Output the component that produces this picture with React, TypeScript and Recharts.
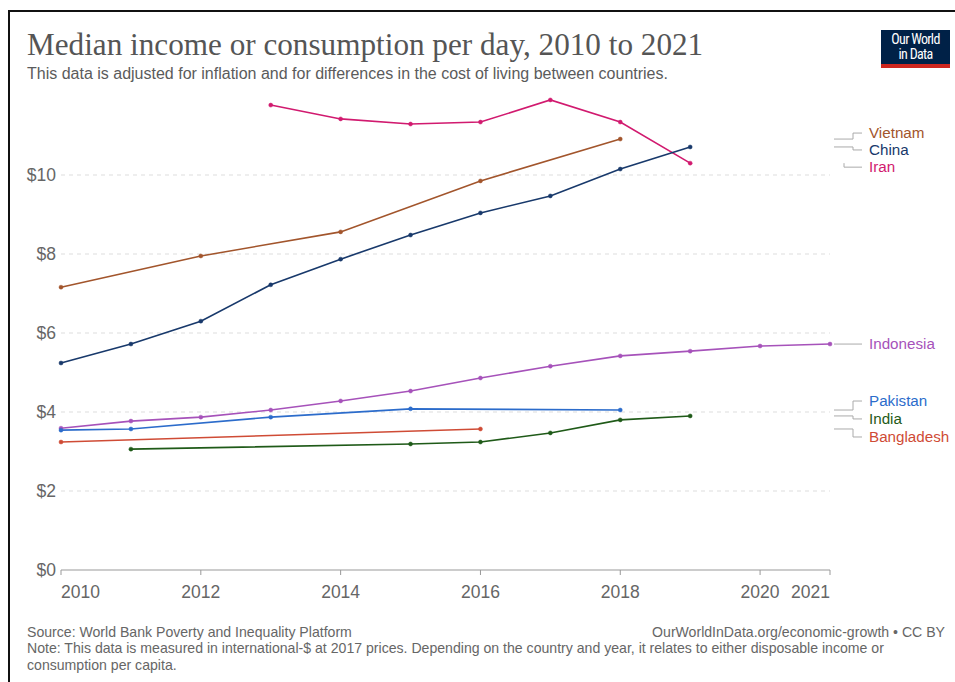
import React from "react";
import { LineChart, Line, XAxis, YAxis, CartesianGrid } from "recharts";

// ---- Data ----
const iranYears = [2013, 2014, 2015, 2016, 2017, 2018, 2019];
const iranValues = [11.77, 11.42, 11.29, 11.34, 11.9, 11.34, 10.3];

const vietnamYears = [2010, 2012, 2014, 2016, 2018];
const vietnamValues = [7.16, 7.95, 8.56, 9.85, 10.91];

const chinaYears = [2010, 2011, 2012, 2013, 2014, 2015, 2016, 2017, 2018, 2019];
const chinaValues = [5.24, 5.72, 6.3, 7.22, 7.87, 8.48, 9.04, 9.47, 10.15, 10.71];

const indonesiaYears = [2010, 2011, 2012, 2013, 2014, 2015, 2016, 2017, 2018, 2019, 2020, 2021];
const indonesiaValues = [3.59, 3.77, 3.87, 4.05, 4.28, 4.53, 4.86, 5.16, 5.42, 5.54, 5.67, 5.72];

const pakistanYears = [2010, 2011, 2013, 2015, 2018];
const pakistanValues = [3.54, 3.57, 3.87, 4.08, 4.05];

const bangladeshYears = [2010, 2016];
const bangladeshValues = [3.24, 3.57];

const indiaYears = [2011, 2015, 2016, 2017, 2018, 2019];
const indiaValues = [3.06, 3.19, 3.24, 3.47, 3.8, 3.9];

const xTicks = [2010, 2012, 2014, 2016, 2018, 2020, 2021];
const yTicks = [0, 2, 4, 6, 8, 10];

const build = (years: number[], values: number[]) =>
  years.map((year, i) => ({ year, value: values[i] }));

// name, data, colour, label vertical offset and connector start (layout)
const series = [
  { name: "Iran", data: build(iranYears, iranValues), color: "#d11a6f", dy: 4, short: true },
  { name: "Vietnam", data: build(vietnamYears, vietnamValues), color: "#a2552c", dy: -6, short: false },
  { name: "China", data: build(chinaYears, chinaValues), color: "#18396b", dy: 3, short: false },
  { name: "Indonesia", data: build(indonesiaYears, indonesiaValues), color: "#a652ba", dy: 0, short: false },
  { name: "Pakistan", data: build(pakistanYears, pakistanValues), color: "#2c6ccb", dy: -9, short: false },
  { name: "Bangladesh", data: build(bangladeshYears, bangladeshValues), color: "#cf4b35", dy: 8, short: false },
  { name: "India", data: build(indiaYears, indiaValues), color: "#1f5a18", dy: 3, short: false },
];

const W = 955;
const H = 682;
const PLOT_RIGHT = 830;
const SANS = "'Liberation Sans', Arial, sans-serif";

const XTick = (props: any) => {
  const { x, y, payload } = props;
  const v = payload.value;
  const anchor = v === 2010 ? "start" : v === 2021 ? "end" : "middle";
  return (
    <text x={x} y={y + 21} textAnchor={anchor} fill="#666" fontSize={17.5} fontFamily={SANS}>
      {v}
    </text>
  );
};

const YTick = (props: any) => {
  const { y, payload } = props;
  return (
    <text x={56} y={y} dy="0.35em" textAnchor="end" fill="#666" fontSize={17.5} fontFamily={SANS}>
      {"$" + payload.value}
    </text>
  );
};

const makeEndLabel = (name: string, color: string, len: number, dy: number, short: boolean) => (props: any) => {
  const { x, y, index } = props;
  if (index !== len - 1 || x == null || y == null) return null;
  const ty = y + dy;
  const x0 = PLOT_RIGHT + 4;
  const x1 = PLOT_RIGHT + (short ? 14 : 23);
  const x2 = PLOT_RIGHT + 32;
  const pts = short
    ? `${x1},${y} ${x1},${ty} ${x2},${ty}`
    : `${x0},${y} ${x1},${y} ${x1},${ty} ${x2},${ty}`;
  return (
    <g>
      <polyline points={pts} fill="none" stroke="#aaa" strokeWidth={1} />
      <text x={PLOT_RIGHT + 39} y={ty} dy="0.35em" fill={color} fontSize={15.2} fontFamily={SANS}>
        {name}
      </text>
    </g>
  );
};

const abs = (extra: React.CSSProperties): React.CSSProperties => ({
  position: "absolute",
  whiteSpace: "nowrap",
  margin: 0,
  ...extra,
});

export default function App() {
  return (
    <div
      style={{
        position: "absolute",
        left: 0,
        top: 0,
        width: W,
        height: H,
        background: "#fff",
        overflow: "hidden",
        fontFamily: SANS,
      }}
    >
      {/* frame */}
      <div style={abs({ left: 8, top: 10, width: W - 8, height: 2, background: "#111" })} />
      <div style={abs({ left: 8, top: 10, width: 2, height: H - 10, background: "#111" })} />

      <div
        style={abs({
          left: 27,
          top: 29,
          fontFamily: "'Liberation Serif', 'DejaVu Serif', serif",
          fontSize: 31.2,
          lineHeight: "32px",
          color: "#555",
        })}
      >
        Median income or consumption per day, 2010 to 2021
      </div>
      <div style={abs({ left: 27, top: 65, fontSize: 16, lineHeight: "17px", color: "#5b5b5b" })}>
        This data is adjusted for inflation and for differences in the cost of living between countries.
      </div>

      {/* logo */}
      <div
        style={abs({
          left: 881,
          top: 30,
          width: 69,
          height: 34,
          background: "#002147",
          color: "#fff",
          fontSize: 14,
          lineHeight: "15px",
          textAlign: "center",
          paddingTop: 2,
          boxSizing: "border-box",
          fontFamily: "'Liberation Sans Narrow', 'Roboto Condensed', " + SANS,
          letterSpacing: "-0.7px",
          overflow: "hidden",
        })}
      >
        Our World
        <br />
        in Data
      </div>
      <div style={abs({ left: 881, top: 64, width: 69, height: 4, background: "#ce261e" })} />

      <div style={abs({ left: 0, top: 0 })}>
        <LineChart
          width={W}
          height={H}
          margin={{ top: 96, right: W - PLOT_RIGHT, bottom: 82, left: 11 }}
        >
          <CartesianGrid
            horizontal
            vertical={false}
            stroke="#ddd"
            strokeDasharray="4 4"
            horizontalValues={yTicks.filter((t) => t > 0)}
          />
          <XAxis
            type="number"
            dataKey="year"
            domain={[2010, 2021]}
            ticks={xTicks}
            allowDuplicatedCategory={false}
            height={30}
            axisLine={{ stroke: "#999" }}
            tickLine={{ stroke: "#999" }}
            tickSize={5}
            tick={<XTick />}
            interval={0}
          />
          <YAxis
            type="number"
            domain={[0, 12]}
            ticks={yTicks}
            width={50}
            axisLine={false}
            tickLine={false}
            tick={<YTick />}
            interval={0}
          />
          {series.map((s) => (
            <Line
              key={s.name}
              data={s.data}
              dataKey="value"
              name={s.name}
              type="linear"
              stroke={s.color}
              strokeWidth={1.6}
              dot={{ r: 2, fill: s.color, stroke: s.color, strokeWidth: 0.5 }}
              activeDot={false}
              isAnimationActive={false}
              label={makeEndLabel(s.name, s.color, s.data.length, s.dy, s.short)}
            />
          ))}
        </LineChart>
      </div>

      <div style={abs({ left: 27, top: 624, fontSize: 14.1, lineHeight: "16px", color: "#666" })}>
        Source: World Bank Poverty and Inequality Platform
      </div>
      <div style={abs({ right: 10, top: 624, fontSize: 14.1, lineHeight: "16px", color: "#666" })}>
        OurWorldInData.org/economic-growth • CC BY
      </div>
      <div style={abs({ left: 27, top: 640, fontSize: 14.1, lineHeight: "17px", color: "#666" })}>
        Note: This data is measured in international-$ at 2017 prices. Depending on the country and year, it relates to either disposable income or
        <br />
        consumption per capita.
      </div>
    </div>
  );
}
